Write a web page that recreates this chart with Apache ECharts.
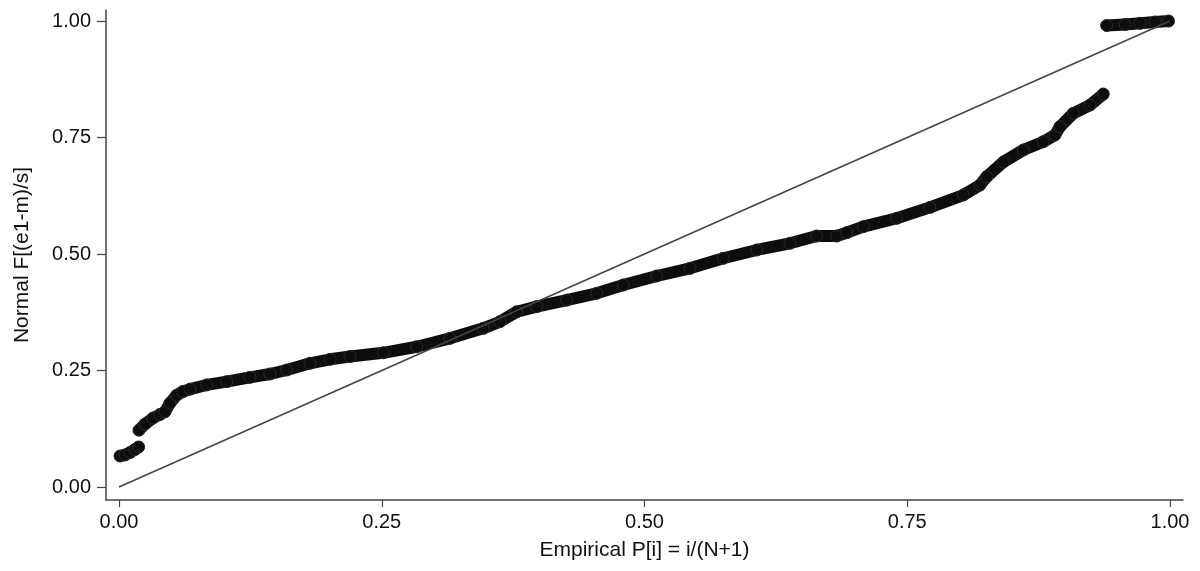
<!DOCTYPE html>
<html>
<head>
<meta charset="utf-8">
<script src="https://cdn.jsdelivr.net/npm/echarts@6/dist/echarts.min.js"></script>
<style>
  html, body { margin: 0; padding: 0; background: #fff; }
  #chart { width: 1200px; height: 571px; }
</style>
</head>
<body>
<div id="chart"></div>
<script>
// 刻度
var tickValues = [0, 0.25, 0.5, 0.75, 1];

// 第一段（最左边的小簇）
var lowX = [0.001, 0.0057, 0.0105, 0.0152, 0.0186];
var lowY = [0.0665, 0.0687, 0.074, 0.0805, 0.0858];

// 中间主体
var midX = [0.019, 0.0247, 0.0324, 0.039, 0.0438, 0.0485, 0.0549, 0.0609, 0.0676, 0.0834,
            0.1025, 0.1246, 0.1437, 0.1596, 0.1817, 0.2008, 0.2198, 0.2515, 0.2833, 0.3149,
            0.3466, 0.3625, 0.3784, 0.3974, 0.426, 0.4545, 0.4798, 0.5116, 0.5433, 0.575,
            0.6068, 0.6384, 0.6638, 0.6829, 0.6924, 0.7082, 0.740, 0.7716, 0.8033, 0.8192,
            0.8256, 0.8414, 0.8604, 0.8794, 0.8906, 0.8953, 0.908, 0.9239, 0.9365];
var midY = [0.122, 0.135, 0.148, 0.1556, 0.1616, 0.180, 0.197, 0.205, 0.210, 0.219,
            0.226, 0.2354, 0.2425, 0.251, 0.2655, 0.274, 0.280, 0.288, 0.301, 0.319,
            0.3405, 0.3547, 0.376, 0.387, 0.401, 0.4157, 0.4335, 0.4528, 0.4693, 0.4908,
            0.5086, 0.523, 0.5386, 0.5386, 0.5457, 0.5586, 0.5766, 0.600, 0.6266, 0.648,
            0.6659, 0.6974, 0.7232, 0.741, 0.7554, 0.7732, 0.8019, 0.8197, 0.8433];

// 右上角
var topX = [0.9398, 0.9572, 0.9715, 0.9857, 0.9986];
var topY = [0.9903, 0.9925, 0.995, 0.9979, 1.0];

// 参考线
var refX = [0, 1];
var refY = [0, 1];

function zip(xs, ys) {
    var out = [];
    for (var i = 0; i < xs.length; i++) {
        out.push([xs[i], ys[i]]);
    }
    return out;
}

var chart = echarts.init(document.getElementById('chart'));
var font = '"Liberation Sans", Arial, Helvetica, sans-serif';

// 点带的样式
function band(data) {
    return {
        type: 'line',
        data: data,
        symbol: 'circle',
        symbolSize: 12,
        showSymbol: true,
        itemStyle: { color: '#0d0d0d', borderColor: '#2a2a2a', borderWidth: 1 },
        lineStyle: { color: '#0d0d0d', width: 12, cap: 'round', join: 'round' },
        silent: true,
        z: 3
    };
}

var option = {
    animation: false,
    backgroundColor: '#fff',
    grid: { left: 106, right: 17, top: 10, bottom: 71 },
    xAxis: {
        type: 'value',
        min: -0.01237,
        max: 1.01237,
        name: 'Empirical P[i] = i/(N+1)',
        nameLocation: 'middle',
        nameGap: 40,
        nameTextStyle: { fontFamily: font, fontSize: 21, color: '#111' },
        axisLine: { show: true, onZero: false, lineStyle: { color: '#444', width: 1.5 } },
        axisTick: { show: true, length: 7, customValues: tickValues, lineStyle: { color: '#444', width: 1.2 } },
        axisLabel: {
            customValues: tickValues,
            margin: 12,
            fontFamily: font, fontSize: 20, color: '#111',
            formatter: function (v) { return v.toFixed(2); }
        },
        splitLine: { show: false }
    },
    yAxis: {
        type: 'value',
        min: -0.0279,
        max: 1.0236,
        name: 'Normal F[(e1-m)/s]',
        nameLocation: 'middle',
        nameGap: 73,
        nameRotate: 90,
        nameTextStyle: { fontFamily: font, fontSize: 21, color: '#111' },
        axisLine: { show: true, onZero: false, lineStyle: { color: '#444', width: 1.5 } },
        axisTick: { show: true, length: 9, customValues: tickValues, lineStyle: { color: '#444', width: 1.2 } },
        axisLabel: {
            customValues: tickValues,
            margin: 15,
            fontFamily: font, fontSize: 20, color: '#111',
            formatter: function (v) { return v.toFixed(2); }
        },
        splitLine: { show: false }
    },
    series: [
        {
            type: 'line',
            data: zip(refX, refY),
            symbol: 'none',
            lineStyle: { color: '#444', width: 1.5 },
            silent: true,
            z: 4
        },
        band(zip(lowX, lowY)),
        band(zip(midX, midY)),
        band(zip(topX, topY))
    ]
};

chart.setOption(option);
</script>
</body>
</html>
